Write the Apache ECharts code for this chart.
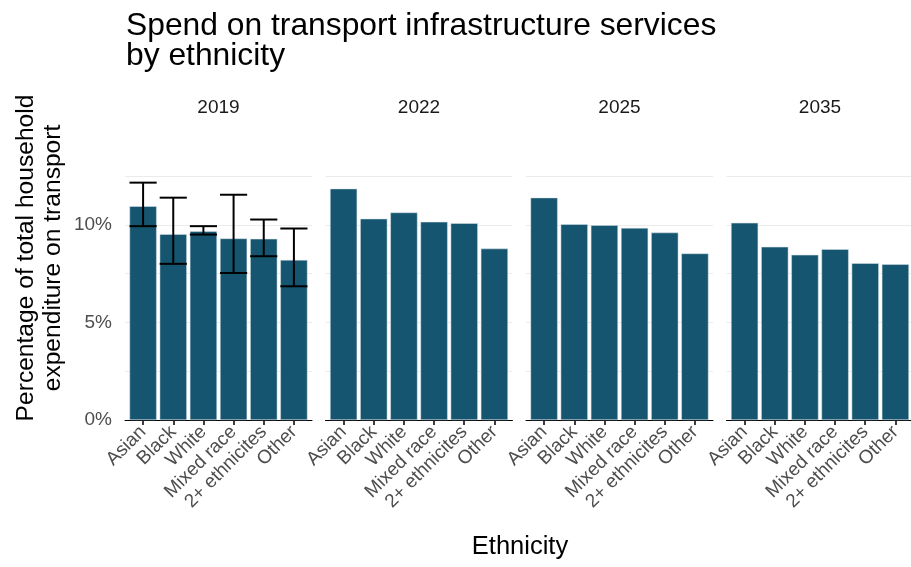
<!DOCTYPE html>
<html>
<head>
<meta charset="utf-8">
<script src="https://cdn.jsdelivr.net/npm/echarts@6/dist/echarts.min.js"></script>
<style>
  html, body { margin: 0; padding: 0; background: #ffffff; }
  #chart { width: 911px; height: 567px; }
</style>
</head>
<body>
<div id="chart"></div>
<script>
// Ethnic groups on the x axis of every panel
const ethnicities = ['Asian', 'Black', 'White', 'Mixed race', '2+ ethnicites', 'Other'];
// Facet years
const years = ['2019', '2022', '2025', '2035'];
// Share of household spend going on transport (%)
const spend2019 = [10.95, 9.52, 9.67, 9.30, 9.28, 8.20];
const spend2022 = [11.85, 10.31, 10.63, 10.15, 10.08, 8.78];
const spend2025 = [11.39, 10.03, 9.98, 9.84, 9.60, 8.53];
const spend2035 = [10.10, 8.87, 8.46, 8.75, 8.03, 7.98];
// 2019 uncertainty interval
const low2019 = [9.93, 8.00, 9.50, 7.53, 8.39, 6.85];
const high2019 = [12.16, 11.39, 9.93, 11.54, 10.27, 9.81];
// y axis ticks
const yTicks = [0, 5, 10];

const spendByYear = [spend2019, spend2022, spend2025, spend2035];

const FONT = '"Liberation Sans", Arial, sans-serif';
const BAR = '#155570';
const GRIDLINE = '#ebebeb';

const panelLeft0 = 125;
const panelStep = 200.5;
const panelWidth = 187;
const unit = panelWidth / 6.2;   // discrete scale with 0.6 expansion each side
const panelTop = 176;
const panelHeight = 244;
const yMax = 12.5;

const grids = [], xAxes = [], yAxes = [], series = [], graphics = [];

years.forEach((yr, i) => {
  const L = panelLeft0 + i * panelStep;
  // outer panel: gridlines and baseline across the full panel width
  grids.push({ left: L, top: panelTop, width: panelWidth, height: panelHeight });
  // inner panel: category bands
  grids.push({ left: L + unit * 0.1, top: panelTop, width: unit * 6, height: panelHeight });
  const gOuter = 2 * i, gInner = 2 * i + 1;

  xAxes.push({
    type: 'value', gridIndex: gOuter, min: 0, max: 1,
    axisLine: { show: true, onZero: false, lineStyle: { color: '#000', width: 1 } },
    axisTick: { show: false }, axisLabel: { show: false }, splitLine: { show: false }
  });
  xAxes.push({
    type: 'category', gridIndex: gInner, data: ethnicities,
    axisLine: { show: false },
    axisTick: { show: true, alignWithLabel: true, length: 5, lineStyle: { color: '#000', width: 1.5 } },
    axisLabel: {
      interval: 0, rotate: 45, margin: 9, color: '#4d4d4d',
      fontFamily: FONT, fontSize: 19
    },
    splitLine: { show: false }
  });
  yAxes.push({
    type: 'value', gridIndex: gOuter, min: 0, max: yMax, interval: 2.5,
    axisLine: { show: false }, axisTick: { show: false },
    axisLabel: {
      show: i === 0, margin: 13, color: '#4d4d4d', fontFamily: FONT, fontSize: 19,
      formatter: v => (yTicks.indexOf(v) >= 0 ? v + '%' : '')
    },
    splitLine: { show: true, lineStyle: { color: GRIDLINE, width: 1 } }
  });
  yAxes.push({
    type: 'value', gridIndex: gInner, min: 0, max: yMax, show: false,
    splitLine: { show: false }
  });

  series.push({
    type: 'bar', xAxisIndex: 2 * i + 1, yAxisIndex: 2 * i + 1,
    data: spendByYear[i], barCategoryGap: '10%',
    itemStyle: { color: BAR, borderColor: '#d9e3e8', borderWidth: 0.5 },
    silent: true, z: 3
  });

  // facet strip label
  graphics.push({
    type: 'text', x: L + panelWidth / 2, y: 108,
    style: { text: yr, font: '19px ' + FONT, fill: '#1a1a1a', textAlign: 'center', textVerticalAlign: 'middle' }
  });
});

// 2019 error bars drawn on the first panel's category axis
series.push({
  type: 'custom', xAxisIndex: 1, yAxisIndex: 1, z: 5, silent: true,
  data: ethnicities.map((c, k) => [k, low2019[k], high2019[k]]),
  renderItem: function (params, api) {
    const x = api.value(0);
    const lo = api.coord([x, api.value(1)]);
    const hi = api.coord([x, api.value(2)]);
    const half = api.size([1, 0])[0] * 0.45;
    const style = { stroke: '#000', lineWidth: 2 };
    return {
      type: 'group',
      children: [
        { type: 'line', shape: { x1: lo[0], y1: lo[1], x2: hi[0], y2: hi[1] }, style: style },
        { type: 'line', shape: { x1: hi[0] - half, y1: hi[1], x2: hi[0] + half, y2: hi[1] }, style: style },
        { type: 'line', shape: { x1: lo[0] - half, y1: lo[1], x2: lo[0] + half, y2: lo[1] }, style: style }
      ]
    };
  }
});

// plot title
graphics.push({
  type: 'text', left: 126, top: 10,
  style: {
    text: 'Spend on transport infrastructure services\nby ethnicity',
    font: '31.8px ' + FONT, fill: '#000', lineHeight: 30
  }
});
// axis titles
graphics.push({
  type: 'text', x: 40, y: 258, rotation: Math.PI / 2,
  style: {
    text: 'Percentage of total household\nexpenditure on transport',
    font: '24.6px ' + FONT, fill: '#000', lineHeight: 27,
    textAlign: 'center', textVerticalAlign: 'middle'
  }
});
graphics.push({
  type: 'text', x: 520, y: 547,
  style: { text: 'Ethnicity', font: '25.5px ' + FONT, fill: '#000', textAlign: 'center', textVerticalAlign: 'middle' }
});

const chart = echarts.init(document.getElementById('chart'), null, { renderer: 'canvas' });
chart.setOption({
  animation: false,
  backgroundColor: '#ffffff',
  grid: grids,
  xAxis: xAxes,
  yAxis: yAxes,
  series: series,
  graphic: graphics
});
</script>
</body>
</html>
